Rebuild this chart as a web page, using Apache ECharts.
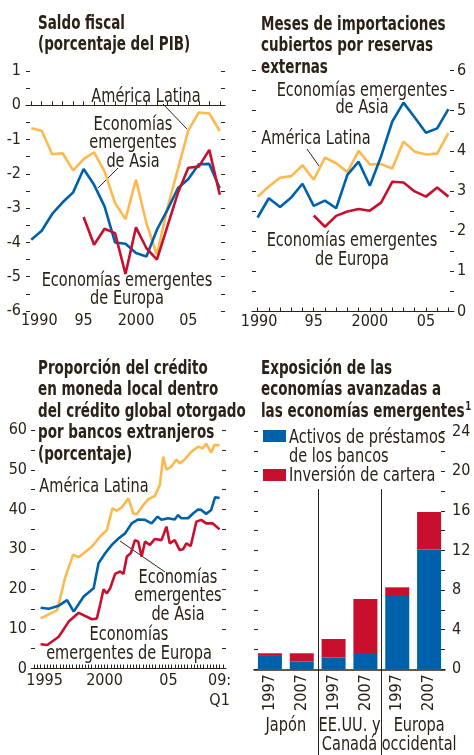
<!DOCTYPE html>
<html>
<head>
<meta charset="UTF-8">
<title>Economías emergentes</title>
<script src="https://cdn.jsdelivr.net/npm/echarts@6/dist/echarts.min.js"></script>
<style>
  html, body { margin: 0; padding: 0; background: #fff; }
  #main { width: 474px; height: 755px; }
</style>
</head>
<body>
<div id="main"></div>
<script>
// --- Saldo fiscal (porcentaje del PIB), 1990-2008 ---
var fiscalYears = [1990, 1991, 1992, 1993, 1994, 1995, 1996, 1997, 1998, 1999, 2000, 2001, 2002, 2003, 2004, 2005, 2006, 2007, 2008];
var fiscalLatAm = [-0.67, -0.74, -1.43, -1.40, -1.90, -1.57, -1.37, -1.93, -2.85, -3.32, -2.17, -3.44, -4.36, -3.0, -1.87, -0.73, -0.21, -0.24, -0.75];
var fiscalAsia = [-3.92, -3.66, -3.17, -2.83, -2.54, -1.86, -2.32, -2.95, -4.0, -4.04, -4.31, -4.41, -3.63, -3.05, -2.42, -2.15, -1.72, -1.71, -2.42];
var fiscalEuropa = [null, null, null, null, null, -3.26, -4.07, -3.6, -3.73, -4.92, -3.56, -4.17, -4.5, -3.53, -2.56, -1.82, -1.79, -1.3, -2.61];

// --- Meses de importaciones cubiertos por reservas, 1990-2007 ---
var importYears = [1990, 1991, 1992, 1993, 1994, 1995, 1996, 1997, 1998, 1999, 2000, 2001, 2002, 2003, 2004, 2005, 2006, 2007];
var importLatAm = [2.86, 3.11, 3.33, 3.37, 3.64, 3.28, 3.83, 3.69, 3.47, 4.0, 3.66, 3.67, 3.56, 4.23, 3.98, 3.91, 3.93, 4.44];
var importAsia = [2.34, 2.82, 2.6, 2.84, 3.18, 2.63, 2.76, 2.57, 3.4, 3.73, 3.13, 3.86, 4.73, 5.2, 4.83, 4.45, 4.56, 5.04];
var importEuropa = [null, null, null, null, null, 2.39, 2.11, 2.38, 2.49, 2.55, 2.51, 2.71, 3.23, 3.21, 2.99, 2.86, 3.09, 2.86];

// --- Credito en moneda local (porcentaje), 1995 - 2009:Q1 ---
var creditLatAmT = [1995.0, 1996.3, 1996.94, 1997.54, 1997.98, 1999.02, 1999.66, 2000.18, 2000.62, 2000.96, 2001.35, 2001.87, 2002.25, 2002.51, 2003.03, 2003.42, 2003.94, 2004.33, 2004.59, 2004.84, 2005.23, 2005.62, 2005.88, 2006.27, 2006.79, 2007.31, 2007.69, 2007.95, 2008.34, 2008.6, 2009.0];
var creditLatAm = [12.6, 14.7, 23.1, 28.6, 28.0, 30.7, 33.2, 34.8, 40.3, 39.7, 40.5, 42.8, 39.0, 38.8, 41.1, 42.6, 43.4, 46.2, 53.3, 50.0, 50.8, 52.6, 51.6, 52.6, 54.5, 55.8, 55.4, 56.6, 54.3, 56.2, 56.2];
var creditAsiaT = [1995.0, 1995.65, 1996.42, 1997.07, 1997.59, 1998.37, 1999.15, 1999.53, 2000.05, 2000.57, 2001.09, 2001.61, 2002.12, 2002.64, 2003.16, 2003.68, 2004.15, 2004.46, 2004.97, 2005.49, 2005.75, 2006.01, 2006.53, 2006.92, 2007.31, 2007.56, 2007.95, 2008.34, 2008.65, 2009.0];
var creditAsia = [15.3, 15.05, 15.8, 17.2, 14.3, 18.1, 20.2, 26.5, 29.0, 31.1, 32.7, 34.0, 36.5, 37.5, 37.4, 36.5, 38.2, 37.4, 37.8, 37.5, 38.6, 37.8, 37.8, 39.0, 40.0, 39.9, 38.9, 39.9, 43.1, 42.9];
var creditEuropaT = [1995.0, 1995.52, 1996.42, 1997.2, 1997.98, 1999.02, 1999.4, 1999.66, 1999.92, 2000.18, 2000.44, 2000.83, 2001.22, 2001.48, 2001.74, 2002.07, 2002.38, 2002.64, 2002.9, 2003.16, 2003.55, 2003.94, 2004.46, 2004.84, 2005.1, 2005.49, 2005.88, 2006.14, 2006.4, 2006.74, 2007.18, 2007.56, 2007.95, 2008.47, 2009.0];
var creditEuropa = [6.1, 5.9, 8.0, 11.8, 14.0, 12.4, 12.6, 16.1, 19.9, 18.9, 20.2, 23.8, 24.4, 23.8, 28.1, 29.1, 32.3, 31.9, 28.1, 31.9, 31.1, 32.6, 32.3, 35.7, 31.5, 32.3, 29.8, 30.0, 31.5, 30.8, 36.9, 37.4, 36.5, 36.5, 35.0];

// --- Exposicion de las economias avanzadas ---
var expYears = ['1997', '2007', '1997', '2007', '1997', '2007'];
var expGroups = ['Japón', 'EE.UU. y\nCanadá', 'Europa\noccidental'];
var expBancos = [1.35, 0.8, 1.2, 1.55, 7.4, 12.1];
var expCartera = [0.27, 0.82, 1.86, 5.55, 0.88, 3.8];

var TXT = '#2b2217';
var ORANGE = '#fdb94f';
var BLUE = '#0061ab';
var RED = '#c8102e';
// no hay fuente "narrow" instalada: se usa la condensada y se estrecha el texto libre
var FONT = '"DejaVu Sans Condensed", "Liberation Sans Narrow", sans-serif';
var NARROW = 0.85;

function pairs(t, v) {
    return t.map(function (x, i) { return [x, v[i]]; });
}
function shortYear(v) {
    v = +v;
    if (v === 1990) return '{first|1990}';
    if (v === 2000) return String(v);
    return String(v).slice(2);
}
function fiveYears(index, value) {
    return [1990, 1995, 2000, 2005].indexOf(+value) >= 0;
}
var lbl = { color: TXT, fontSize: 16, fontFamily: FONT };
var tickIn = { show: true, inside: true, length: 4, lineStyle: { color: TXT, width: 1 } };
var darkLine = { show: true, lineStyle: { color: TXT, width: 1 } };

function yAx(grid, pos, min, max, step, labelEvery, margin) {
    return {
        type: 'value', gridIndex: grid, position: pos, min: min, max: max, interval: step,
        axisLine: { show: false }, splitLine: { show: false }, axisTick: tickIn,
        axisLabel: labelEvery ? Object.assign({ margin: margin, formatter: function (v) {
            return Math.abs(v % labelEvery) < 1e-9 ? String(v) : '';
        } }, lbl) : { show: false }
    };
}
function lineSeries(name, xi, yi, data, color) {
    return { name: name, type: 'line', xAxisIndex: xi, yAxisIndex: yi, data: data, symbol: 'none',
        connectNulls: false, silent: true, lineStyle: { color: color, width: 2.6 } };
}
function note(text, x, y, lh, vAlign) {
    return { type: 'text', x: x, y: y, scaleX: NARROW, silent: true, style: { text: text, fill: TXT, fontSize: 19, fontFamily: FONT,
        lineHeight: lh || 19, align: 'center', verticalAlign: vAlign || 'middle' } };
}
function title(text, x, y) {
    return { type: 'text', x: x, y: y, scaleX: 0.79, silent: true, style: { text: text, fill: TXT, fontSize: 19,
        fontWeight: 'bold', fontFamily: FONT, lineHeight: 21.5, align: 'left', verticalAlign: 'top',
        rich: { s: { fill: TXT, fontSize: 12, fontWeight: 'bold', fontFamily: FONT, lineHeight: 21.5, padding: [0, 0, 9, 1] } } } };
}
function leader(x1, y1, x2, y2) {
    return { type: 'line', silent: true, shape: { x1: x1, y1: y1, x2: x2, y2: y2 }, style: { stroke: TXT, lineWidth: 1 } };
}

var option = {
    animation: false,
    grid: [
        { left: 26, right: 249, top: 71, height: 240 },
        { left: 252, right: 20, top: 70.5, height: 241 },
        { left: 31, right: 248, top: 430, height: 238.5 },
        { left: 254, right: 29, top: 431.7, height: 237.6 }
    ],
    xAxis: [
        { type: 'category', gridIndex: 0, data: fiscalYears, boundaryGap: true, axisLine: darkLine,
          axisTick: Object.assign({ alignWithLabel: true, interval: 0 }, tickIn),
          axisLabel: Object.assign({ interval: fiveYears, formatter: shortYear, margin: 2,
              rich: { first: { color: TXT, fontSize: 16, fontFamily: FONT, padding: [0, 0, 0, 16] } } }, lbl) },
        { type: 'category', gridIndex: 1, data: importYears, boundaryGap: true, axisLine: darkLine,
          axisTick: Object.assign({ alignWithLabel: true, interval: 0 }, tickIn),
          axisLabel: Object.assign({ interval: fiveYears, formatter: shortYear, margin: 2,
              rich: { first: { color: TXT, fontSize: 16, fontFamily: FONT, padding: [0, 0, 0, 3] } } }, lbl) },
        { type: 'value', gridIndex: 2, min: 1994.25, max: 2009.5, interval: 0.25, axisLine: darkLine,
          splitLine: { show: false }, axisTick: tickIn,
          axisLabel: Object.assign({ margin: 2, lineHeight: 20, showMinLabel: false, showMaxLabel: false,
              rich: { first: { color: TXT, fontSize: 16, fontFamily: FONT, padding: [0, 0, 0, 8] } },
              formatter: function (v) {
                  if (v === 1995) return '{first|1995}';
                  if (v === 2000) return '2000';
                  if (v === 2005) return '05';
                  if (v === 2009) return '09:\nQ1';
                  return '';
              } }, lbl) },
        { type: 'category', gridIndex: 3, data: expYears, axisLine: { show: true, lineStyle: { color: TXT, width: 1.5 } },
          axisTick: { show: false }, axisLabel: Object.assign({ rotate: 90, margin: 5, interval: 0 }, lbl) }
    ],
    yAxis: [
        yAx(0, 'left', -6, 1, 0.5, 1, 5),
        yAx(0, 'right', -6, 1, 0.5, 0),
        yAx(1, 'left', 0, 6, 0.5, 0),
        yAx(1, 'right', 0, 6, 0.5, 1, 3),
        yAx(2, 'left', 0, 60, 5, 10, 4),
        yAx(2, 'right', 0, 60, 5, 0),
        yAx(3, 'left', 0, 24, 2, 0),
        yAx(3, 'right', 0, 24, 2, 4, 7)
    ],
    series: [
        Object.assign(lineSeries('América Latina', 0, 0, fiscalLatAm, ORANGE), {
            markLine: { silent: true, symbol: 'none', label: { show: false },
                lineStyle: { color: TXT, width: 1, type: 'solid' }, data: [{ yAxis: 0 }] }
        }),
        lineSeries('Economías emergentes de Asia', 0, 0, fiscalAsia, BLUE),
        lineSeries('Economías emergentes de Europa', 0, 0, fiscalEuropa, RED),

        lineSeries('América Latina', 1, 3, importLatAm, ORANGE),
        lineSeries('Economías emergentes de Asia', 1, 3, importAsia, BLUE),
        lineSeries('Economías emergentes de Europa', 1, 3, importEuropa, RED),

        lineSeries('América Latina', 2, 4, pairs(creditLatAmT, creditLatAm), ORANGE),
        lineSeries('Economías emergentes de Asia', 2, 4, pairs(creditAsiaT, creditAsia), BLUE),
        lineSeries('Economías emergentes de Europa', 2, 4, pairs(creditEuropaT, creditEuropa), RED),

        { name: 'Activos de préstamos de los bancos', type: 'bar', xAxisIndex: 3, yAxisIndex: 7, stack: 'exp',
          barWidth: 24, data: expBancos, itemStyle: { color: BLUE }, silent: true },
        { name: 'Inversión de cartera', type: 'bar', xAxisIndex: 3, yAxisIndex: 7, stack: 'exp',
          barWidth: 24, data: expCartera, itemStyle: { color: RED }, silent: true }
    ],
    graphic: [
        // titulos
        title('Saldo fiscal\n(porcentaje del PIB)', 38, 13),
        title('Meses de importaciones\ncubiertos por reservas\nexternas', 261, 14),
        title('Proporción del crédito\nen moneda local dentro\ndel crédito global otorgado\npor bancos extranjeros\n(porcentaje)', 38, 358),
        title('Exposición de las\neconomías avanzadas a\nlas economías emergentes{s|1}', 261, 358),
        // saldo fiscal
        note('América Latina', 146, 97),
        leader(163, 104, 187, 129),
        note('Economías\nemergentes\nde Asia', 133, 143.5, 18.5),
        leader(118, 168, 98, 188),
        note('Economías emergentes\nde Europa', 127, 290, 18),
        // importaciones
        note('Economías emergentes\nde Asia', 362, 99.5, 17.5),
        note('América Latina', 316, 139),
        leader(307, 149, 319, 166),
        note('Economías emergentes\nde Europa', 352, 250.5, 19),
        // credito
        note('América Latina', 94, 487),
        note('Economías\nemergentes\nde Asia', 178, 596.5, 18.5),
        leader(120, 541, 165, 572),
        note('Economías\nemergentes de Europa', 129, 644.5, 19),
        // leyenda exposicion
        { type: 'rect', silent: true, shape: { x: 263, y: 430, width: 23, height: 12 }, style: { fill: BLUE } },
        { type: 'text', silent: true, x: 289, y: 428.7, scaleX: NARROW, style: { text: 'Activos de préstamos\nde los bancos', fill: TXT,
            fontSize: 19, fontFamily: FONT, lineHeight: 18.7, align: 'left', verticalAlign: 'top' } },
        { type: 'rect', silent: true, shape: { x: 263, y: 469, width: 23, height: 12 }, style: { fill: RED } },
        { type: 'text', silent: true, x: 289, y: 476, scaleX: NARROW, style: { text: 'Inversión de cartera', fill: TXT,
            fontSize: 19, fontFamily: FONT, align: 'left', verticalAlign: 'middle' } }
    ]
};

var myChart = echarts.init(document.getElementById('main'), null, { renderer: 'canvas' });
myChart.setOption(option);

// separadores y nombres de los grupos del panel de exposicion (2 barras por grupo)
var sepTop = myChart.convertToPixel({ yAxisIndex: 7 }, 18.2);
var extra = [];
expGroups.forEach(function (name, g) {
    var xa = myChart.convertToPixel({ xAxisIndex: 3 }, 2 * g);
    var xb = myChart.convertToPixel({ xAxisIndex: 3 }, 2 * g + 1);
    if (g > 0) {
        var xp = myChart.convertToPixel({ xAxisIndex: 3 }, 2 * g - 1);
        var x = Math.round((xp + xa) / 2) + 0.5;
        extra.push(leader(x, sepTop, x, 755));
    }
    extra.push(note(name, (xa + xb) / 2 + (g === 2 ? 6 : 0), 716.5, 19, 'top'));
});
myChart.setOption({ graphic: option.graphic.concat(extra) });
</script>
</body>
</html>
